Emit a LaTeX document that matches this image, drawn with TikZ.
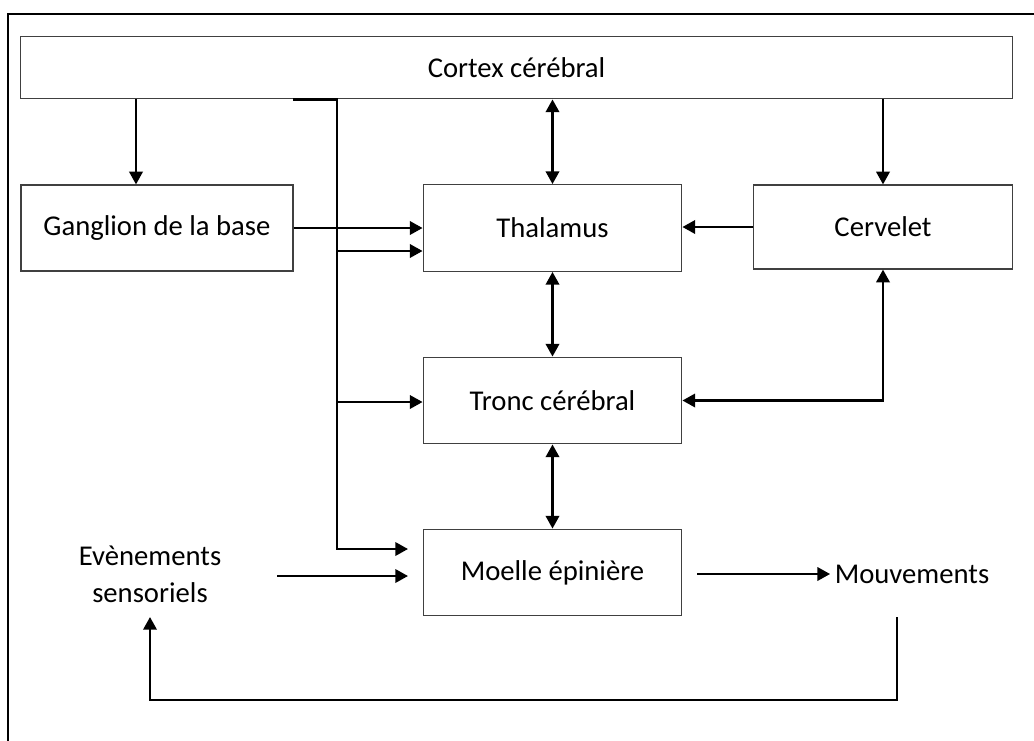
\documentclass[tikz,border=0pt]{standalone}
\usepackage{fontspec}
\setmainfont{Carlito}
\usetikzlibrary{arrows.meta}

\begin{document}
\begin{tikzpicture}[x=0.75pt,y=-0.75pt,
    box/.style={draw=black!75,line width=0.9pt,inner sep=0pt,
        minimum width=194pt,minimum height=65pt},
    link/.style={line width=1.8pt,-{Triangle[length=9.5pt,width=10pt]}},
    both/.style={line width=1.8pt,{Triangle[length=9.5pt,width=10pt]}-{Triangle[length=9.5pt,width=10pt]}},
    every node/.style={font=\fontsize{21.5}{28}\selectfont}]
    \useasboundingbox (0,0) rectangle (1034,740);
    \draw[line width=1.5pt] (8,745) -- (8,14) -- (1040,14);

    % boxes
    \node[box,minimum width=744pt,minimum height=47pt] (cortex) at (516.5,67.5) {Cortex cérébral};
    \node[box,minimum width=204pt,minimum height=64.5pt] (ganglion) at (157,228) {Ganglion de la base};
    \node[box] (thalamus) at (552.5,228) {Thalamus};
    \node[box,minimum height=63pt] (cervelet) at (883,227) {Cervelet};
    \node[box] (tronc) at (552.5,400.5) {Tronc cérébral};
    \node[box] (moelle) at (552.5,572.5) {Moelle épinière};
    \node[align=center] (sens) at (150,574) {Evènements\\sensoriels};
    \node (mouv) at (912,574) {Mouvements};

    % free ends
    \coordinate (j1) at (337,251);
    \coordinate (j2) at (337,402);
    \coordinate (inA) at (408,549);
    \coordinate (inB) at (408,576);
    \coordinate (sout) at (277,576);
    \coordinate (mout) at ([xshift=11pt]moelle.east);
    \coordinate (fbstart) at (897,617);
    \coordinate (fbend) at (150,617);

    % connectors
    \draw[link] (136,0 |- cortex.south) -- (136,0 |- ganglion.north);
    \draw[both] (thalamus.north |- cortex.south) -- (thalamus.north);
    \draw[link] (cervelet.north |- cortex.south) -- (cervelet.north);
    \draw[link] (ganglion.east) -- (ganglion.east -| thalamus.west);
    \draw[link] (cervelet.west) -- (cervelet.west -| thalamus.east);
    \draw[both] (thalamus) -- (tronc);
    \draw[both] (tronc) -- (moelle);
    \draw[both] (tronc.east) -| (cervelet.south);
    \draw[link] (293,0 |- cortex.south) -| (337,549) -- (inA);
    \draw[link] (j1) -- (j1 -| thalamus.west);
    \draw[link] (j2) -- (j2 -| tronc.west);
    \draw[link] (sout) -- (inB);
    \draw[link] (mout |- mouv.west) -- (mouv.west);
    \draw[link] (fbstart) -- ++(0,83) -| (fbend);
\end{tikzpicture}
\end{document}
